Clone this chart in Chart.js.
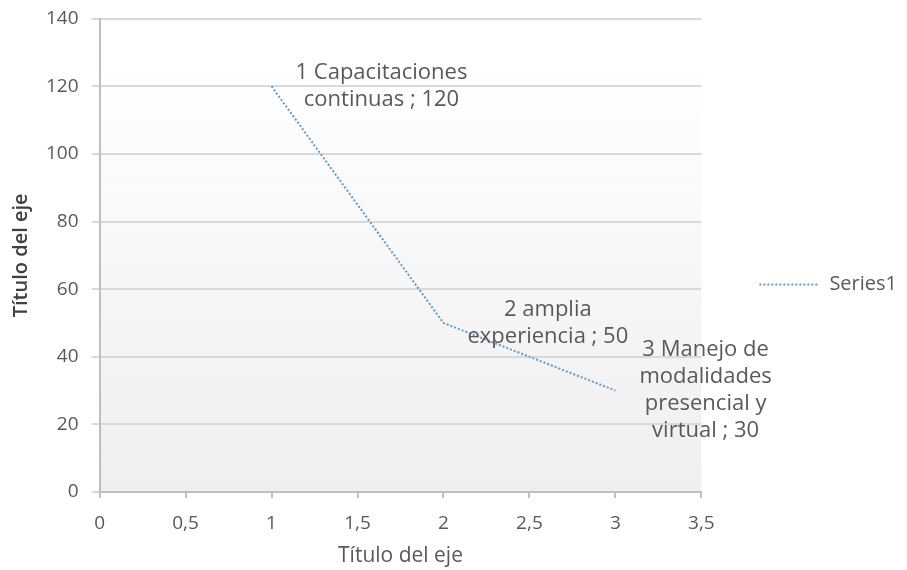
<!DOCTYPE html>
<html>
<head>
<meta charset="utf-8">
<script src="https://cdn.jsdelivr.net/npm/chart.js@4.4.0/dist/chart.umd.min.js"></script>
<style>
  html, body { margin: 0; padding: 0; background: #ffffff; }
  #wrap { width: 907px; height: 570px; }
</style>
</head>
<body>
<div id="wrap"><canvas id="lineChart"></canvas></div>
<script>
var puntosX = [1, 2, 3];
var puntosY = [120, 50, 30];
var etiquetas = [
    ["1 Capacitaciones", "continuas ; 120"],
    ["2 amplia", "experiencia ; 50"],
    ["3 Manejo de", "modalidades", "presencial y", "virtual ; 30"]
];
var nombreSerie = "Series1";
var tituloEje = "Título del eje";

var fuente = "'Open Sans', sans-serif";
var gris = "#595959";
var azul = "#5b9bd5";
var punteado = [2, 2];

// fondo degradado del area de trazado
var fondoPlugin = {
    id: "fondo",
    beforeDraw: function(chart) {
        var a = chart.chartArea;
        var ctx = chart.ctx;
        var g = ctx.createLinearGradient(0, a.top, 0, a.bottom);
        g.addColorStop(0, "#ffffff");
        g.addColorStop(0.08, "#ffffff");
        g.addColorStop(1, "#efefef");
        ctx.save();
        ctx.fillStyle = g;
        ctx.fillRect(a.left, a.top, a.right - a.left, a.bottom - a.top);
        ctx.restore();
    }
};

// etiquetas de datos a la derecha de cada punto
var etiquetasPlugin = {
    id: "etiquetas",
    afterDatasetsDraw: function(chart) {
        var ctx = chart.ctx;
        var meta = chart.getDatasetMeta(0);
        var alto = 27;
        ctx.save();
        ctx.font = "22px " + fuente;
        ctx.fillStyle = gris;
        ctx.textAlign = "center";
        ctx.textBaseline = "middle";
        for (var i = 0; i < meta.data.length; i++) {
            var p = meta.data[i];
            var lineas = etiquetas[i];
            var ancho = 0;
            for (var j = 0; j < lineas.length; j++) {
                ancho = Math.max(ancho, ctx.measureText(lineas[j]).width);
            }
            var cx = p.x + 24 + ancho / 2;
            var y0 = p.y - (lineas.length - 1) * alto / 2;
            for (var j = 0; j < lineas.length; j++) {
                ctx.fillText(lineas[j], cx, y0 + j * alto);
            }
        }
        ctx.restore();
    }
};

var datos = [];
for (var i = 0; i < puntosX.length; i++) {
    datos.push({ x: puntosX[i], y: puntosY[i] });
}

var ctx = document.getElementById("lineChart").getContext("2d");
new Chart(ctx, {
    type: "line",
    data: {
        datasets: [{
            label: nombreSerie,
            data: datos,
            borderColor: azul,
            borderWidth: 2,
            borderDash: punteado,
            pointRadius: 0,
            fill: false,
            tension: 0
        }]
    },
    options: {
        responsive: true,
        maintainAspectRatio: false,
        animation: false,
        layout: { padding: { top: 0, right: 0, left: 9, bottom: 1 } },
        plugins: {
            tooltip: { enabled: false },
            legend: {
                position: "right",
                labels: {
                    usePointStyle: true,
                    pointStyle: "line",
                    pointStyleWidth: 60,
                    color: gris,
                    font: { family: fuente, size: 20 },
                    padding: 58,
                    generateLabels: function(chart) {
                        var items = Chart.defaults.plugins.legend.labels.generateLabels(chart);
                        items.forEach(function(it) {
                            it.lineDash = punteado;
                            it.lineWidth = 2;
                            it.strokeStyle = azul;
                        });
                        return items;
                    }
                }
            }
        },
        scales: {
            x: {
                type: "linear",
                min: 0,
                max: 3.5,
                border: { color: "#bfbfbf", width: 2 },
                grid: { drawOnChartArea: false, color: "#bfbfbf", lineWidth: 2, tickLength: 6 },
                ticks: {
                    stepSize: 0.5,
                    color: gris,
                    font: { family: fuente, size: 19 },
                    padding: 14,
                    callback: function(v) { return String(v).replace(".", ","); }
                },
                title: {
                    display: true,
                    text: tituloEje,
                    color: gris,
                    font: { family: fuente, size: 21 },
                    padding: { top: -5, bottom: 0 }
                }
            },
            y: {
                min: 0,
                max: 140,
                border: { color: "#bfbfbf", width: 2 },
                grid: { color: "#d9d9d9", lineWidth: 2, tickLength: 8 },
                ticks: {
                    stepSize: 20,
                    color: gris,
                    font: { family: fuente, size: 19, lineHeight: 0.6 },
                    padding: 13
                },
                title: {
                    display: true,
                    text: tituloEje,
                    color: "#404040",
                    font: { family: fuente, size: 20, weight: "600" },
                    padding: { top: 0, bottom: 0 }
                }
            }
        }
    },
    plugins: [fondoPlugin, etiquetasPlugin]
});
</script>
</body>
</html>
